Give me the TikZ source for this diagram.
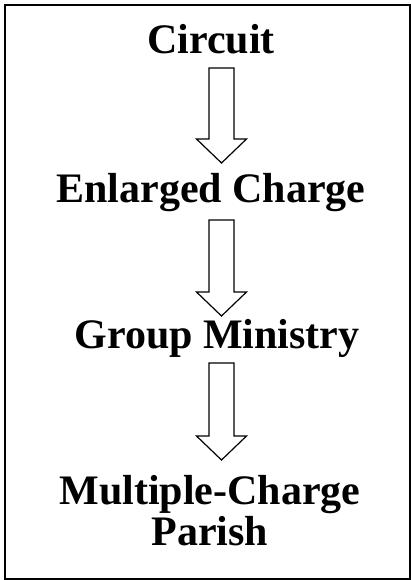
\documentclass[tikz,border=0pt]{standalone}
\usepackage{fontspec}
\setmainfont{Liberation Serif}
\usetikzlibrary{calc}
\tikzset{
  lbl/.style={font=\bfseries\fontsize{42}{38}\selectfont, anchor=base, inner sep=0pt, align=center},
  barrow/.style={draw=black, line width=1.2pt, fill=white, line join=miter},
  frame/.style={draw=black, line width=2pt}
}
\newcommand{\blockarr}[2]{%
  \draw[barrow] ($(#1)+(-12.5,0)$) -- ($(#1)+(12.5,0)$) -- ($(#2)+(12.5,-24)$) -- ($(#2)+(25,-24)$) -- (#2) -- ($(#2)+(-25,-24)$) -- ($(#2)+(-12.5,-24)$) -- cycle;}
\begin{document}
\begin{tikzpicture}[x=1pt,y=-1pt]
\useasboundingbox (0,0) rectangle (411,580);
\draw[frame] (5,5) rectangle (410,578.5);
\node[lbl] (c) at (211,54) {Circuit};
\node[lbl] (e) at (211,202) {Enlarged Charge};
\node[lbl] (g) at (217,348) {Group Ministry};
\node[lbl] (m) at (210,545) {Multiple-Charge\\[1pt]Parish};
\coordinate (a1) at (221.5,68);
\coordinate (t1) at (221.5,163);
\coordinate (a2) at (221.5,220);
\coordinate (t2) at (221.5,316);
\coordinate (a3) at (221.5,363);
\coordinate (t3) at (221.5,460);
\blockarr{a1}{t1}
\blockarr{a2}{t2}
\blockarr{a3}{t3}
\end{tikzpicture}
\end{document}
